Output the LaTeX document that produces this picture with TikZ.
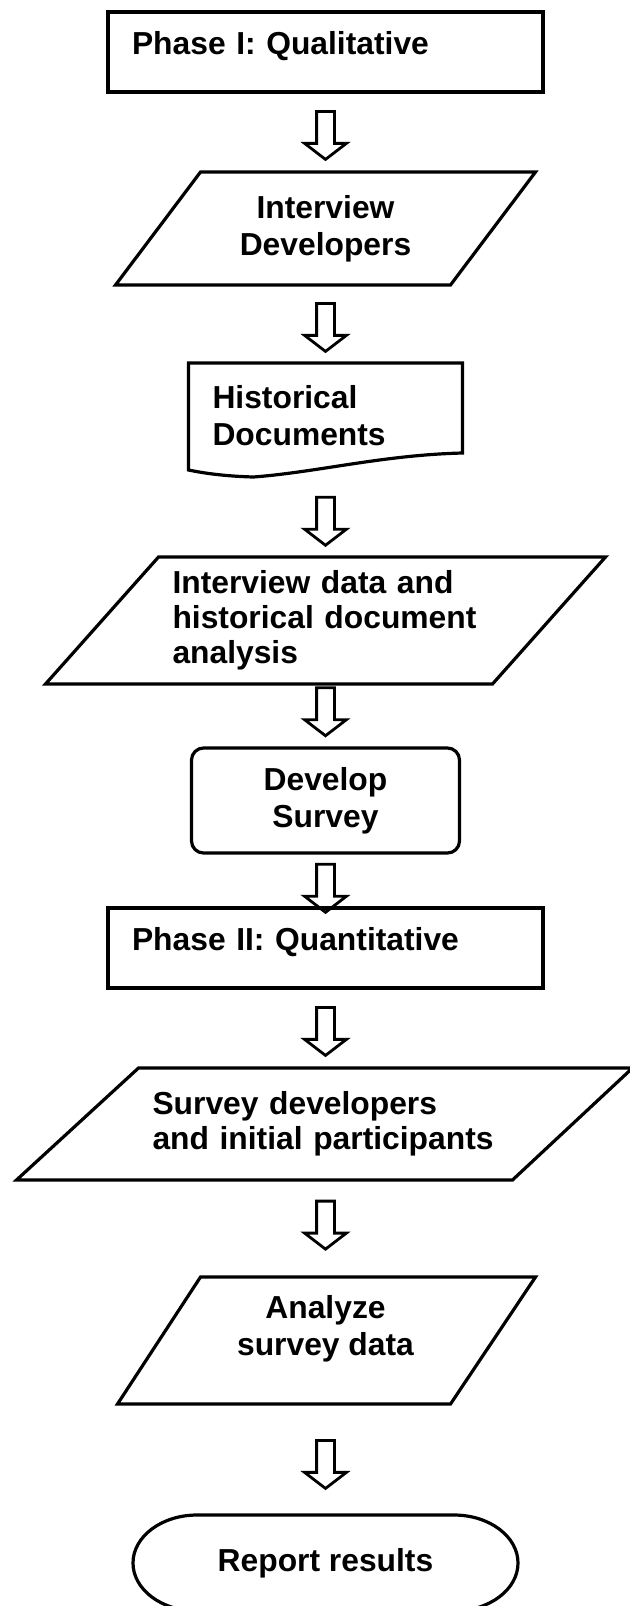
\documentclass[tikz,border=0pt]{standalone}
\usepackage{fontspec}
\setmainfont{Liberation Sans}
\usetikzlibrary{shapes.arrows, positioning, calc}

\begin{document}
\begin{tikzpicture}[
    x=0.5pt, y=-0.5pt,
    line width=1.6pt,
    block/.style={rectangle, outer sep=0pt, inner ysep=2pt, font=\bfseries\fontsize{15.9pt}{18.5pt}\selectfont},
    phase/.style={block, draw, text width=193.5pt, inner xsep=12pt, align=left, minimum height=40pt, text depth=9pt},
    iobody/.style={block, inner xsep=2pt, align=center},
    iotext/.style={block, inner xsep=7pt, align=left, font=\bfseries\fontsize{15.9pt}{17.5pt}\selectfont},
    docbody/.style={block, inner xsep=12pt, text width=113pt, align=left, minimum height=52.5pt},
    proc/.style={block, draw, rounded corners=6pt, align=center, minimum width=134pt, minimum height=52.5pt},
    flow/.style={single arrow, draw, rotate=-90, inner xsep=0pt, inner ysep=3.75pt, outer sep=0pt,
        single arrow head extend=6pt, single arrow tip angle=105, minimum height=24pt, minimum width=19.5pt, line width=1.4pt}
]
    \path[use as bounding box, fill=white] (0,0) rectangle (629,1606);

    \node (ph1) [phase] at (325.5,52) {Phase I: Qualitative};
    \node (iv) [iobody, below=40pt of ph1, minimum width=125pt, minimum height=56.5pt] {Interview\\Developers};
    \node (hist) [docbody, below=39pt of iv] {Historical\\Documents};
    \node (idata) [iotext, below=44.5pt of hist, text width=153pt, minimum height=63.5pt] {Interview data and\\historical document\\analysis};
    \node (dev) [proc, below=32pt of idata] {Develop\\Survey};
    \node (ph2) [phase, below=27.5pt of dev] {Phase II: Quantitative};
    \node (sdev) [iotext, below=40pt of ph2, text width=173pt, minimum height=56pt] {Survey developers\\and initial participants};
    \node (ana) [iobody, below=48.5pt of sdev, minimum width=125pt, minimum height=51.5pt] {Analyze\\survey data};
    \node (rep) [iobody, below=67.5pt of ana, minimum width=192.5pt, minimum height=48pt] {Report results};

    % outlines
    \draw (iv.north west) -- ($(iv.north east)+(85,0)$) -- (iv.south east) -- ($(iv.south west)+(-85,0)$) -- cycle;
    \draw (hist.north west) -- (hist.north east) -- ($(hist.south east)+(0,-15)$)
        .. controls ($(hist.south east)+(-80,-13)$) and ($(hist.south west)+(130,4)$) .. ($(hist.south west)+(65,9)$)
        .. controls ($(hist.south west)+(30,8)$) and ($(hist.south west)+(10,4)$) .. ($(hist.south west)+(0,2)$) -- cycle;
    \draw (idata.north west) -- ($(idata.north east)+(113,0)$) -- (idata.south east) -- ($(idata.south west)+(-113,0)$) -- cycle;
    \draw (sdev.north west) -- ($(sdev.north east)+(120,0)$) -- (sdev.south east) -- ($(sdev.south west)+(-122,0)$) -- cycle;
    \draw (ana.north west) -- ($(ana.north east)+(85,0)$) -- ($(ana.south east)+(0,24)$) -- ($(ana.south west)+(-83,24)$) -- cycle;
    \draw ($(rep.north west)+(64,0)$) -- ($(rep.north east)+(-64,0)$) arc[start angle=90, end angle=-90, x radius=32pt, y radius=24pt]
        -- ($(rep.south west)+(64,0)$) arc[start angle=270, end angle=90, x radius=32pt, y radius=24pt] -- cycle;

    % hollow arrows
    \path (ph1.south) -- (iv.north) node[flow, midway] (a1) {};
    \path (iv.south) -- (hist.north) node[flow, midway] (a2) {};
    \path (hist.south) -- (idata.north) node[flow, pos=0.56] (a3) {};
    \path (idata.south) -- (dev.north) node[flow, pos=0.38] (a4) {};
    \path (dev.south) -- (ph2.north) node[flow, pos=0.58] (a5) {};
    \path (ph2.south) -- (sdev.north) node[flow, midway] (a6) {};
    \path (sdev.south) -- (ana.north) node[flow, pos=0.43] (a7) {};
    \path (ana.south) -- (rep.north) node[flow, pos=0.6] (a8) {};

\end{tikzpicture}
\end{document}
